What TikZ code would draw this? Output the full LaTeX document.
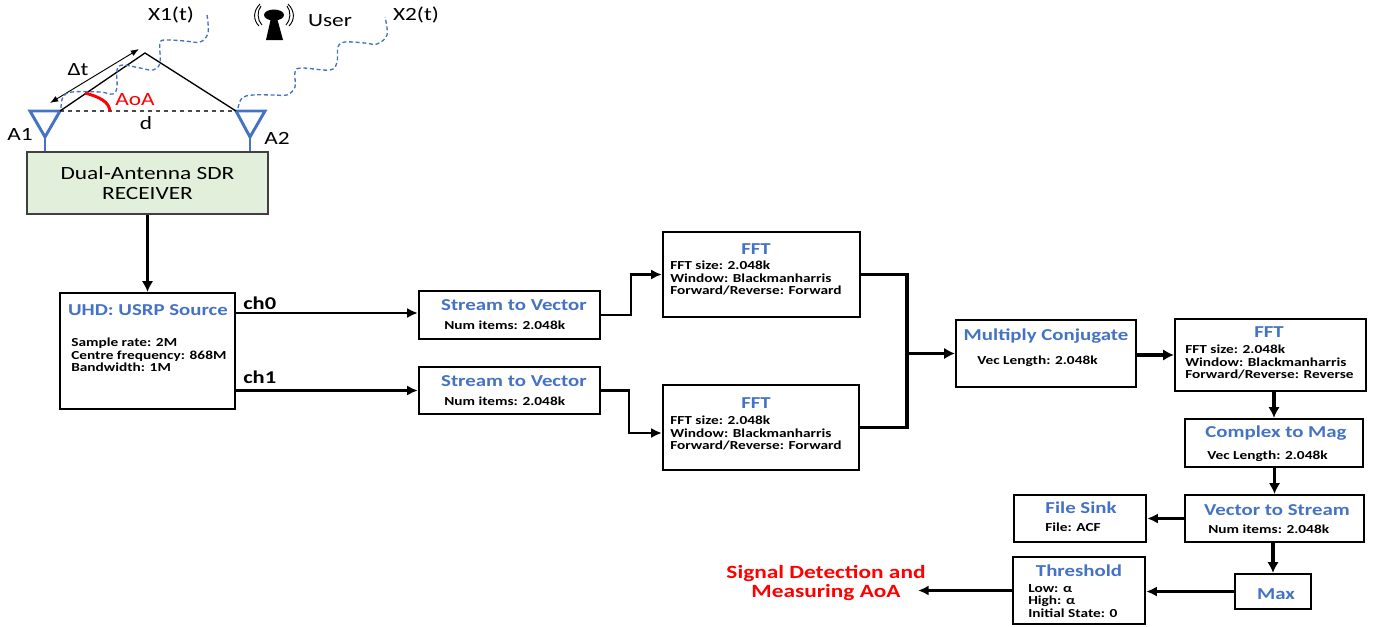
\documentclass[tikz,border=0pt]{standalone}
\usepackage{fontspec}
\setmainfont[FakeStretch=1.25]{Carlito}
\usetikzlibrary{positioning,shapes,arrows,arrows.meta,calc}
\definecolor{tblue}{RGB}{68,114,196}
\definecolor{rgreen}{RGB}{226,239,218}
\tikzstyle{block} = [draw=black, line width=1.7pt, rectangle, inner sep=0pt]
\tikzstyle{blocktitle} = [text=tblue, font=\bfseries\fontsize{12.5}{14}\selectfont, inner sep=0pt]
\tikzstyle{blockbody} = [anchor=west, align=left, font=\bfseries\fontsize{9.2}{9.4}\selectfont, inner sep=0pt]
\tikzstyle{plain} = [font=\fontsize{14}{14.5}\selectfont, inner sep=0pt]
\tikzstyle{flow} = [-{Latex[length=8pt,width=7.5pt]}, line width=2.2pt]
\tikzstyle{flowthick} = [-{Latex[length=8pt,width=8.5pt]}, line width=2.8pt]
\tikzstyle{antenna} = [draw=tblue, line width=2.2pt]
\tikzstyle{wave} = [draw=tblue, densely dashed, line width=1pt]

\begin{document}
\begin{tikzpicture}[x=0.75pt, y=-0.75pt]
\useasboundingbox (0,0) rectangle (1379,626);

% receiver and antennas
\node (receiver) [block, draw=black!75, line width=1pt, fill=rgreen, minimum width=180.75pt, minimum height=46.5pt, plain, align=center] at (147.5,183) {Dual-Antenna SDR\\RECEIVER};
\coordinate (a1l) at (30,111);
\coordinate (a1r) at (60,111);
\coordinate (a1tip) at (45,137);
\coordinate (a2l) at (236,111);
\coordinate (a2r) at (265,111);
\coordinate (a2tip) at (250,137);
\coordinate (apex) at (145,53);
\draw[antenna] (a1l) -- (a1r) -- (a1tip) -- cycle;
\draw[antenna] (a2l) -- (a2r) -- (a2tip) -- cycle;
\draw[antenna] (a1tip) -- (a1tip |- receiver.north);
\draw[antenna] (a2tip) -- (a2tip |- receiver.north);
\draw[dashed, line width=0.9pt, black!70] (a1r) -- (a2l);
\draw[line width=1pt] (a1r) -- (apex) -- (a2l);
\draw[Latex-Latex, line width=0.7pt] (50,103) -- (139,49);
\draw[red, line width=2.2pt] (85,93) .. controls (100,97) and (109,102) .. (110,111);
\draw[wave] plot[smooth, tension=0.6] coordinates {(61,108) (63,97) (72,92) (100,92) (113,94) (117,87) (117,70) (123,65) (140,68) (153,70) (160,63) (160,43) (167,40) (185,41) (200,42) (208,33) (207,15)};
\draw[wave] plot[smooth, tension=0.6] coordinates {(238,108) (242,98) (253,95) (275,95) (287,95) (295,87) (295,72) (302,68) (330,70) (337,62) (338,47) (345,42) (365,43) (377,44) (387,35) (385,17)};

% user
\fill (274,15) ellipse (10 and 5.5);
\fill (271,18) -- (277,18) -- (283,40) -- (266,40) -- cycle;
\foreach \s in {1,-1} {
  \draw[line width=0.7pt] ($(274,15)+(\s*13,-9)$) .. controls ($(274,15)+(\s*17,-4)$) and ($(274,15)+(\s*17,5)$) .. ($(274,15)+(\s*12,10)$);
  \draw[line width=0.7pt] ($(274,15)+(\s*14,-11)$) .. controls ($(274,15)+(\s*21,-4)$) and ($(274,15)+(\s*21,5)$) .. ($(274,15)+(\s*15,11)$);
}

\node (x1) [plain] at (171,15) {X1(t)};
\node (user) [plain] at (330,21) {User};
\node (x2) [plain] at (416,15) {X2(t)};
\node (dt) [plain] at (78,70) {Δt};
\node (aoa) [plain, text=red] at (135,100) {AoA};
\node (dist) [plain] at (146,123) {d};
\node (a1) [plain] at (20,134) {A1};
\node (a2) [plain] at (277,138) {A2};

% flow graph blocks
\node (usrp) [block, minimum width=131.25pt, minimum height=87pt] at (147.5,351) {};
\node (usrpt) [blocktitle] at (148,310) {UHD: USRP Source};
\node (usrpb) [blockbody] at (71,355) {Sample rate: 2M\\Centre frequency: 868M\\Bandwidth: 1M};

\node (streama) [block, minimum width=135.75pt, minimum height=36pt] at (509.5,315) {};
\node (streamat) [blocktitle] at (514,305) {Stream to Vector};
\node (streamab) [blockbody] at (444,325) {Num items: 2.048k};

\node (streamb) [block, minimum width=135.75pt, minimum height=35.25pt] at (509.5,390.5) {};
\node (streambt) [blocktitle] at (514,381) {Stream to Vector};
\node (streambb) [blockbody] at (444,401) {Num items: 2.048k};

\node (ffta) [block, minimum width=147.75pt, minimum height=63.75pt] at (761.5,274.5) {};
\node (fftat) [blocktitle] at (756,249) {FFT};
\node (fftab) [blockbody] at (670,278) {FFT size: 2.048k\\Window: Blackmanharris\\Forward/Reverse: Forward};

\node (fftb) [block, minimum width=147pt, minimum height=63.75pt] at (761,427.5) {};
\node (fftbt) [blocktitle] at (756,403) {FFT};
\node (fftbb) [blockbody] at (670,433) {FFT size: 2.048k\\Window: Blackmanharris\\Forward/Reverse: Forward};

\node (multiply) [block, minimum width=135pt, minimum height=50.25pt] at (1046,353.5) {};
\node (multiplyt) [blocktitle] at (1046,336) {Multiply Conjugate};
\node (multiplyb) [blockbody] at (977,361) {Vec Length: 2.048k};

\node (fftc) [block, minimum width=143.25pt, minimum height=54pt] at (1270.5,355) {};
\node (fftct) [blocktitle] at (1269,332) {FFT};
\node (fftcb) [blockbody] at (1185,362) {FFT size: 2.048k\\Window: Blackmanharris\\Forward/Reverse: Reverse};

\node (complex) [block, minimum width=133.5pt, minimum height=36pt] at (1274,443) {};
\node (complext) [blocktitle] at (1276,433) {Complex to Mag};
\node (complexb) [blockbody] at (1207,456) {Vec Length: 2.048k};

\node (vector) [block, minimum width=134.25pt, minimum height=35.25pt] at (1274.5,518.5) {};
\node (vectort) [blocktitle] at (1277,510) {Vector to Stream};
\node (vectorb) [blockbody] at (1208,529) {Num items: 2.048k};

\node (sink) [block, minimum width=99pt, minimum height=35.25pt] at (1080,518.5) {};
\node (sinkt) [blocktitle] at (1081,508) {File Sink};
\node (sinkb) [blockbody] at (1045,527) {File: ACF};

\node (threshold) [block, minimum width=99pt, minimum height=50.25pt] at (1079,590.5) {};
\node (thresholdt) [blocktitle] at (1079,571) {Threshold};
\node (thresholdb) [blockbody] at (1028,601) {Low: α\\High: α\\Initial State: 0};

\node (max) [block, minimum width=57pt, minimum height=26.25pt] at (1273,591.5) {};
\node (maxt) [blocktitle] at (1276,594) {Max};

\node (detect) [blocktitle, text=red, align=center, font=\bfseries\fontsize{14}{14.5}\selectfont] at (826,583) {Signal Detection and\\Measuring AoA};
\coordinate (detectend) at (918,590.5);

\node (cha) [blockbody, font=\bfseries\fontsize{13.5}{14}\selectfont] at (243,303) {ch0};
\node (chb) [blockbody, font=\bfseries\fontsize{13.5}{14}\selectfont] at (243,377) {ch1};

% connectors
\coordinate (join) at (907,353.5);
\draw[flowthick] (receiver.south) -- (usrp.north);
\draw[flow] ($(usrp.east |- streama.west)+(0,-2)$) -- ($(streama.west)+(0,-2)$);
\draw[flow] (usrp.east |- streamb.west) -- (streamb.west);
\draw[flow] (streama.east) -| (631,274.5) -- (ffta.west);
\draw[flow] (streamb.east) -| (629,433) -- ($(fftb.west)+(0,5.5)$);
\draw[line width=2.6pt] (ffta.east) -| (join);
\draw[line width=2.6pt] (fftb.east) -| (join);
\draw[flowthick] (join) -- (multiply.west);
\draw[flowthick] (multiply.east |- fftc.west) -- (fftc.west);
\draw[flowthick] (complex.north |- fftc.south) -- (complex.north);
\draw[flowthick] (vector.north |- complex.south) -- (vector.north);
\draw[flow] (vector.west) -- (sink.east);
\draw[flowthick] (max.north |- vector.south) -- (max.north);
\draw[flow] (max.west) -- (max.west -| threshold.east);
\draw[flow] (threshold.west) -- (detectend);
\end{tikzpicture}
\end{document}
